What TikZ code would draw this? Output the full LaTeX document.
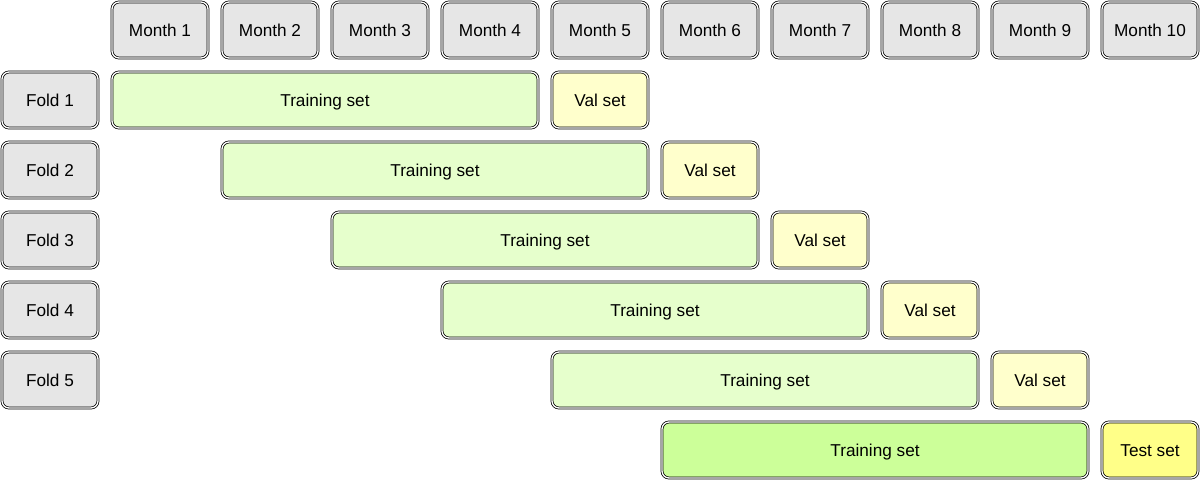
\documentclass[tikz,border=0pt]{standalone}
\usepackage{fontspec}
\setmainfont{Liberation Sans}
\definecolor{greyf}{HTML}{E6E6E6}
\definecolor{trainf}{HTML}{E6FFCC}
\definecolor{valf}{HTML}{FFFFCC}
\definecolor{trainfinal}{HTML}{CCFF99}
\definecolor{testf}{HTML}{FFFF88}
\begin{document}
\begin{tikzpicture}[x=1pt,y=-1pt,
  box/.style={draw=black, double=white, double distance=1.3pt, line width=0.75pt,
    rounded corners=7pt, minimum height=56pt, inner sep=0pt,
    text height=13pt, text depth=0pt,
    font=\fontsize{17.2}{19}\selectfont},
  small/.style={box, minimum width=96pt},
  wide/.style={box, minimum width=426pt},
  greybox/.style={small, fill=greyf},
  trainbox/.style={wide, fill=trainf},
  valbox/.style={small, fill=valf},
]
\useasboundingbox (0,0) rectangle (1201,481);
\foreach \k in {1,...,10} {
  \node[greybox] (m\k) at ({160+110*(\k-1)},30) {Month \k};
}
\foreach \i in {1,...,5} {
  \node[greybox] (f\i) at (50,{100+70*(\i-1)}) {Fold \i};
  \node[trainbox] (t\i) at ({325+110*(\i-1)},{100+70*(\i-1)}) {Training set};
  \node[valbox] (v\i) at ({600+110*(\i-1)},{100+70*(\i-1)}) {Val set};
}
\node[wide, fill=trainfinal] (tf) at (875,450) {Training set};
\node[small, fill=testf] (test) at (1150,450) {Test set};
\end{tikzpicture}
\end{document}
